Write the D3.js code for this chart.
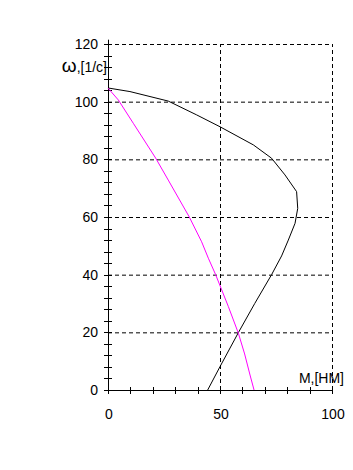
<html>
<head>
<script src="https://d3js.org/d3.v7.min.js"></script>
<style>
body { margin: 0; background: #fff; }
svg text { font-family: 'Liberation Sans', Arial, sans-serif; font-size: 14px; fill: #000; }
</style>
</head>
<body>
<svg width="353" height="470"></svg>
<script>
// chart data: moment M [HM] vs angular speed w [1/c]
var motorM = [0.4, 9.8, 26.9, 39.6, 50, 64.9, 73, 79, 84.2, 84.7, 83.5, 80.5, 77.5, 73.1, 65.5, 58.2, 50, 44.5];
var motorW = [104.7, 103.5, 100.2, 95.4, 91.3, 85, 80.4, 74.6, 68.8, 63, 57.8, 52, 46.5, 40.1, 30, 19.9, 8.1, 0];
var loadM = [0, 4.6, 11.3, 21.3, 26.9, 36.3, 41.8, 44.8, 48, 53.7, 58.2, 61, 63.4, 65.2];
var loadW = [104.7, 100.6, 92.5, 80.4, 72.8, 60, 51.4, 45.7, 40.1, 29, 19.7, 12.5, 5.2, 0];
var xTickLabels = [0, 50, 100];
var yTickLabels = [0, 20, 40, 60, 80, 100, 120];

var svg = d3.select("svg");

var x = d3.scaleLinear().domain([0, 100]).range([108, 332]);
var y = d3.scaleLinear().domain([0, 120]).range([390, 44]);

// dashed grid
svg.selectAll("line.hgrid").data(yTickLabels.filter(function (d) { return d > 0; }))
  .enter().append("line")
  .attr("x1", x(0)).attr("x2", x(100))
  .attr("y1", function (d) { return y(d) + 0.5; }).attr("y2", function (d) { return y(d) + 0.5; })
  .attr("stroke", "#000").attr("stroke-dasharray", "4,3");

svg.selectAll("line.vgrid").data(xTickLabels.filter(function (d) { return d > 0; }))
  .enter().append("line")
  .attr("x1", function (d) { return x(d) + 0.5; }).attr("x2", function (d) { return x(d) + 0.5; })
  .attr("y1", y(0)).attr("y2", y(120))
  .attr("stroke", "#000").attr("stroke-dasharray", "4,3");

// axes lines
svg.append("line").attr("x1", x(0) + 0.5).attr("x2", x(0) + 0.5)
  .attr("y1", y(0)).attr("y2", y(121.5)).attr("stroke", "#000");
svg.append("line").attr("x1", x(0)).attr("x2", x(100) + 1)
  .attr("y1", y(0) + 0.5).attr("y2", y(0) + 0.5).attr("stroke", "#000");

// minor ticks
svg.selectAll("line.yt").data(d3.range(0, 121, 4))
  .enter().append("line")
  .attr("x1", x(0) - 4).attr("x2", x(0) + 4)
  .attr("y1", function (d) { return Math.round(y(d)) + 0.5; })
  .attr("y2", function (d) { return Math.round(y(d)) + 0.5; })
  .attr("stroke", "#000");

svg.selectAll("line.xt").data(d3.range(0, 101, 10))
  .enter().append("line")
  .attr("x1", function (d) { return Math.round(x(d)) + 0.5; })
  .attr("x2", function (d) { return Math.round(x(d)) + 0.5; })
  .attr("y1", y(0) - 3).attr("y2", y(0) + 4)
  .attr("stroke", "#000");

// tick labels
svg.selectAll("text.yl").data(yTickLabels)
  .enter().append("text")
  .attr("x", 98).attr("y", function (d) { return y(d) + 5; })
  .attr("text-anchor", "end")
  .text(function (d) { return d; });

svg.selectAll("text.xl").data(xTickLabels)
  .enter().append("text")
  .attr("x", function (d) { return x(d) + 1; }).attr("y", 419)
  .attr("text-anchor", "middle")
  .text(function (d) { return d; });

// axis titles
var wTitle = svg.append("text").attr("x", 107).attr("y", 72).attr("text-anchor", "end");
wTitle.append("tspan").style("font-size", "19px").text("ω");
wTitle.append("tspan").text(",[1/c]");
svg.append("text").attr("x", 344).attr("y", 383).attr("text-anchor", "end").text("M,[HM]");

// curves
var line = d3.line()
  .x(function (d) { return x(d[0]); })
  .y(function (d) { return y(d[1]); });

svg.append("path")
  .attr("d", line(d3.zip(motorM, motorW)))
  .attr("fill", "none").attr("stroke", "#000").attr("stroke-width", 1);

svg.append("path")
  .attr("d", line(d3.zip(loadM, loadW)))
  .attr("fill", "none").attr("stroke", "#ff00ff").attr("stroke-width", 1);
</script>
</body>
</html>
